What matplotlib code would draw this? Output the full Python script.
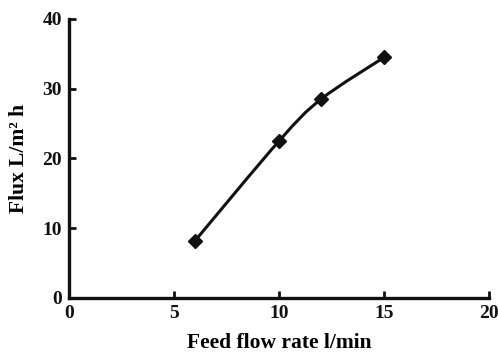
import numpy as np
import matplotlib
matplotlib.use("Agg")
import matplotlib.pyplot as plt
from matplotlib.path import Path
from matplotlib.patches import PathPatch

flow = [6, 10, 12, 15]
flux = [8.2, 22.5, 28.5, 34.5]
xticks = [0, 5, 10, 15, 20]
yticks = [0, 10, 20, 30, 40]

plt.rcParams['font.family'] = 'Liberation Serif'
plt.rcParams['font.weight'] = 'bold'

fig = plt.figure(figsize=(4.98, 3.55), dpi=100)
ax = fig.add_axes([0.1386, 0.1606, 0.8434, 0.7859])

# smoothed line (catmull-rom as bezier segments, like excel)
pts = np.column_stack([flow, flux])
verts = [tuple(pts[0])]
codes = [Path.MOVETO]
for i in range(len(pts) - 1):
    p0 = pts[i - 1] if i > 0 else pts[i]
    p1 = pts[i]
    p2 = pts[i + 1]
    p3 = pts[i + 2] if i + 2 < len(pts) else pts[i + 1]
    c1 = p1 + (p2 - p0) / 6
    c2 = p2 - (p3 - p1) / 6
    verts += [tuple(c1), tuple(c2), tuple(p2)]
    codes += [Path.CURVE4] * 3
ax.add_patch(PathPatch(Path(verts, codes), fill=False, lw=2.2, ec='#111111'))
ax.plot(flow, flux, ls='none', marker='D', ms=7.5, color='#111111')

ax.set_xlim(0, 20)
ax.set_ylim(0, 40)
ax.set_xticks(xticks)
ax.set_yticks(yticks)
for s in ['top', 'right']:
    ax.spines[s].set_visible(False)
for s in ['left', 'bottom']:
    ax.spines[s].set_linewidth(2.4)
    ax.spines[s].set_color('#111111')
ax.tick_params(direction='in', width=2, length=5, labelsize=14, pad=5, colors='#111111')
ax.set_xlabel('Feed flow rate l/min', fontsize=15.5, fontweight='bold', labelpad=8)
ax.set_ylabel('Flux L/m\u00b2 h', fontsize=15.5, fontweight='bold', labelpad=10)

fig.savefig('out.png', dpi=100)
